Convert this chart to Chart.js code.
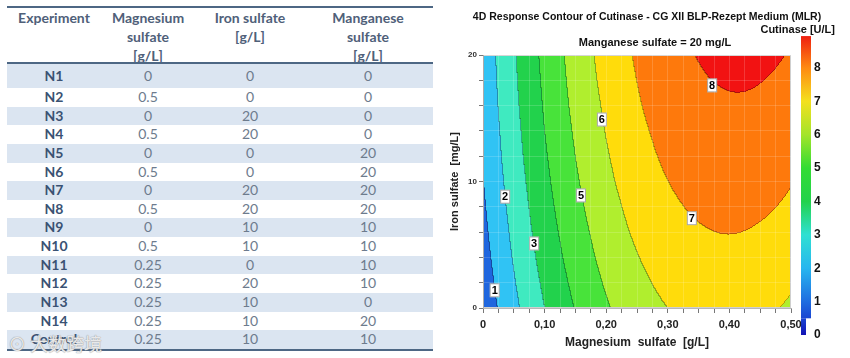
<!DOCTYPE html>
<html>
<head>
<meta charset="utf-8">
<script src="https://cdn.jsdelivr.net/npm/chart.js@4.4.1/dist/chart.umd.min.js"></script>
<style>
html, body { margin: 0; padding: 0; background: #fff; }
#page { position: relative; width: 850px; height: 358px; overflow: hidden; font-family: Lato, "Open Sans", sans-serif; }
#table { position: absolute; left: 7px; top: 0; width: 426px; height: 358px; }
.rule { position: absolute; left: 0; width: 426px; height: 2px; background: #4d6784; }
.row { position: absolute; left: 0; width: 426px; }
.cell { position: absolute; top: 0; transform: translateX(-50%); white-space: nowrap; text-align: center; }
.head { font-weight: bold; font-size: 14px; color: #4f6079; line-height: 19px; }
.name { font-weight: bold; font-size: 14px; color: #3a5273; }
.val { font-size: 14px; color: #6d7b8d; }
#mark { position: absolute; left: 8px; top: 330px; font-family: "Noto Sans CJK SC"; font-size: 18px; color: rgba(255,255,255,0.8);
  text-shadow: 0 0 1px #999, 0 0 1px #999; }
#chartBox { position: absolute; left: 440px; top: 0; width: 410px; height: 358px; }
</style>
</head>
<body>
<div id="page">
  <div id="table"></div>
  <div id="mark">⊙ 大数跨境</div>
  <div id="chartBox"><canvas id="contour"></canvas></div>
</div>
<script>
// table on the left
const headers = [['Experiment'], ['Magnesium', 'sulfate', '[g/L]'], ['Iron sulfate', '[g/L]'], ['Manganese', 'sulfate', '[g/L]']];
const experiments = ['N1', 'N2', 'N3', 'N4', 'N5', 'N6', 'N7', 'N8', 'N9', 'N10', 'N11', 'N12', 'N13', 'N14', 'Control'];
const magnesium = [0, 0.5, 0, 0.5, 0, 0.5, 0, 0.5, 0, 0.5, 0.25, 0.25, 0.25, 0.25, 0.25];
const iron = [0, 0, 20, 20, 0, 0, 20, 20, 10, 10, 0, 20, 10, 10, 10];
const manganese = [0, 0, 0, 0, 20, 20, 20, 20, 10, 10, 10, 10, 0, 20, 10];

// contour surface, Cutinase [U/L] read on a grid (rows = iron sulfate, cols = magnesium sulfate)
const mgGrid = [0, 0.05, 0.10, 0.15, 0.20, 0.25, 0.30, 0.35, 0.40, 0.45, 0.50];
const feGrid = [0, 2, 4, 6, 8, 10, 12, 14, 16, 18, 20];
const cutinase = [
  [0.28, 1.73, 2.98, 4.03, 4.89, 5.54, 6.00, 6.26, 6.33, 6.19, 5.86], // Fe 0
  [0.44, 1.90, 3.16, 4.22, 5.09, 5.75, 6.22, 6.50, 6.57, 6.44, 6.12], // Fe 2
  [0.59, 2.06, 3.33, 4.40, 5.28, 5.95, 6.43, 6.71, 6.80, 6.69, 6.37], // Fe 4
  [0.72, 2.20, 3.48, 4.56, 5.45, 6.14, 6.63, 6.92, 7.02, 6.91, 6.61], // Fe 6
  [0.84, 2.33, 3.62, 4.72, 5.61, 6.31, 6.81, 7.12, 7.22, 7.13, 6.84], // Fe 8
  [0.95, 2.45, 3.75, 4.86, 5.77, 6.47, 6.99, 7.30, 7.41, 7.33, 7.05], // Fe 10
  [1.05, 2.56, 3.87, 4.99, 5.90, 6.62, 7.15, 7.47, 7.60, 7.52, 7.25], // Fe 12
  [1.13, 2.65, 3.98, 5.10, 6.03, 6.76, 7.29, 7.63, 7.76, 7.70, 7.44], // Fe 14
  [1.21, 2.74, 4.07, 5.21, 6.14, 6.89, 7.43, 7.77, 7.92, 7.87, 7.62], // Fe 16
  [1.27, 2.81, 4.15, 5.30, 6.25, 7.00, 7.55, 7.91, 8.06, 8.02, 7.79], // Fe 18
  [1.31, 2.87, 4.22, 5.38, 6.34, 7.10, 7.66, 8.03, 8.20, 8.17, 7.94]  // Fe 20
];

// contour labels
const labelLevels = [1, 2, 3, 5, 6, 7, 8];
const labelMg = [0.019, 0.036, 0.083, 0.159, 0.193, 0.339, 0.372];
const labelFe = [1.4, 8.8, 5.1, 8.9, 14.9, 7.1, 17.6];

const colorbarTicks = [0, 1, 2, 3, 4, 5, 6, 7, 8];

const levelColors = ['#1f66de', '#30c3f4', '#3feac0', '#22d24c', '#48e33a', '#b0ee2e', '#ffdc0b', '#fe790c', '#f21212'];
const barStops = [[0, '#1212b4'], [0.5, '#1a46d2'], [1, '#1f6de0'], [2, '#27b6ef'], [3, '#2fe0d2'], [4, '#22d24c'],
  [5, '#33dc33'], [6, '#a4e42a'], [7, '#f4e01e'], [8, '#fe8a12'], [9, '#ee1a10']];

// build table
const tbl = document.getElementById('table');
const colX = [47, 141, 243, 361];
function addRule(y) {
  const d = document.createElement('div');
  d.className = 'rule'; d.style.top = y + 'px';
  tbl.appendChild(d);
}
addRule(6);
headers.forEach((lines, c) => {
  const d = document.createElement('div');
  d.className = 'cell head';
  d.style.left = colX[c] + 'px';
  d.style.top = '8px';
  d.innerHTML = lines.join('<br>');
  tbl.appendChild(d);
});
addRule(62);
experiments.forEach((name, i) => {
  const top = i === 0 ? 64 : 88 + (i - 1) * 18.64;
  const h = i === 0 ? 24 : 18.64;
  const row = document.createElement('div');
  row.className = 'row';
  row.style.top = top + 'px';
  row.style.height = h + 'px';
  row.style.lineHeight = h + 'px';
  if (i % 2 === 0) row.style.background = '#dbe5f1';
  [name, magnesium[i], iron[i], manganese[i]].forEach((t, c) => {
    const d = document.createElement('div');
    d.className = 'cell ' + (c === 0 ? 'name' : 'val');
    d.style.left = colX[c] + 'px';
    d.textContent = String(t);
    row.appendChild(d);
  });
  tbl.appendChild(row);
});
addRule(349);

// contour chart
function hexRgb(h) {
  return [parseInt(h.substr(1, 2), 16), parseInt(h.substr(3, 2), 16), parseInt(h.substr(5, 2), 16)];
}
const levelRgb = levelColors.map(hexRgb);

// grid node, with quadratic extension one node past the edges
function node(j, i) {
  const ni = mgGrid.length, nj = feGrid.length;
  if (i < 0) return 3 * node(j, 0) - 3 * node(j, 1) + node(j, 2);
  if (i > ni - 1) return 3 * node(j, ni - 1) - 3 * node(j, ni - 2) + node(j, ni - 3);
  if (j < 0) return 3 * node(0, i) - 3 * node(1, i) + node(2, i);
  if (j > nj - 1) return 3 * node(nj - 1, i) - 3 * node(nj - 2, i) + node(nj - 3, i);
  return cutinase[j][i];
}
function cr(p0, p1, p2, p3, t) {
  return 0.5 * (2 * p1 + (p2 - p0) * t + (2 * p0 - 5 * p1 + 4 * p2 - p3) * t * t + (3 * p1 - p0 - 3 * p2 + p3) * t * t * t);
}
function cutinaseAt(mg, fe) {
  const fx = (mg - mgGrid[0]) / (mgGrid[1] - mgGrid[0]);
  const fy = (fe - feGrid[0]) / (feGrid[1] - feGrid[0]);
  const i = Math.min(Math.max(Math.floor(fx), 0), mgGrid.length - 2);
  const j = Math.min(Math.max(Math.floor(fy), 0), feGrid.length - 2);
  const tx = fx - i, ty = fy - j;
  const col = [];
  for (let r = -1; r <= 2; r++) {
    col.push(cr(node(j + r, i - 1), node(j + r, i), node(j + r, i + 1), node(j + r, i + 2), tx));
  }
  return cr(col[0], col[1], col[2], col[3], ty);
}

const fieldPlugin = {
  id: 'field',
  beforeDraw(chart) {
    // colour bar, drawn first so the last x label can sit over its tail
    const ctx = chart.ctx;
    const cbY = v => 335 - v * 33.4;
    ctx.save();
    const grad = ctx.createLinearGradient(0, cbY(0), 0, cbY(9));
    barStops.forEach(s => grad.addColorStop(s[0] / 9, s[1]));
    ctx.fillStyle = grad;
    ctx.fillRect(361, cbY(8.95), 10, cbY(0.5) - cbY(8.95));
    ctx.fillRect(361, cbY(0.5), 5, cbY(0) - cbY(0.5));
    ctx.fillStyle = '#111';
    ctx.textBaseline = 'middle';
    ctx.font = 'bold 12px "Liberation Sans"';
    ctx.textAlign = 'left';
    colorbarTicks.forEach(v => ctx.fillText(String(v), 374, cbY(v)));
    ctx.restore();
  },
  beforeDatasetsDraw(chart) {
    const {ctx, chartArea: a, scales: {x, y}} = chart;
    const w = Math.round(a.right - a.left), h = Math.round(a.bottom - a.top);
    const off = document.createElement('canvas');
    off.width = w; off.height = h;
    const octx = off.getContext('2d');
    const img = octx.createImageData(w, h);
    const band = new Int8Array(w * h);
    for (let py = 0; py < h; py++) {
      const fe = y.getValueForPixel(a.top + py + 0.5);
      for (let px = 0; px < w; px++) {
        const mg = x.getValueForPixel(a.left + px + 0.5);
        const v = cutinaseAt(mg, fe);
        band[py * w + px] = Math.max(0, Math.min(levelColors.length - 1, Math.floor(v)));
      }
    }
    for (let py = 0; py < h; py++) {
      for (let px = 0; px < w; px++) {
        const k = py * w + px;
        const b = band[k];
        const edge = (px < w - 1 && band[k + 1] !== b) || (py < h - 1 && band[k + w] !== b);
        const c = levelRgb[b];
        const f = edge ? 0.72 : 1;
        img.data[k * 4] = c[0] * f;
        img.data[k * 4 + 1] = c[1] * f;
        img.data[k * 4 + 2] = c[2] * f;
        img.data[k * 4 + 3] = 255;
      }
    }
    octx.putImageData(img, 0, 0);
    ctx.drawImage(off, a.left, a.top);
  },
  afterDatasetsDraw(chart) {
    const {ctx, chartArea: a} = chart;
    const meta = chart.getDatasetMeta(0);
    ctx.save();
    ctx.strokeStyle = '#cfcfcf';
    ctx.lineWidth = 1;
    ctx.strokeRect(a.left + 0.5, a.top + 0.5, a.right - a.left - 1, a.bottom - a.top - 1);
    ctx.font = 'bold 11px "Liberation Sans"';
    ctx.textAlign = 'center';
    ctx.textBaseline = 'middle';
    meta.data.forEach((pt, i) => {
      ctx.fillStyle = '#ffffff';
      ctx.fillRect(pt.x - 5, pt.y - 7, 10, 14);
      ctx.strokeStyle = 'rgba(0,0,0,0.35)';
      ctx.strokeRect(pt.x - 5 + 0.5, pt.y - 7 + 0.5, 9, 13);
      ctx.fillStyle = '#000';
      ctx.fillText(String(labelLevels[i]), pt.x, pt.y + 0.5);
    });
    ctx.restore();
  },
  afterDraw(chart) {
    const ctx = chart.ctx;
    ctx.save();
    ctx.fillStyle = '#111';
    ctx.textBaseline = 'middle';
    ctx.font = 'bold 10.5px "Liberation Sans"';
    ctx.textAlign = 'center';
    ctx.fillText('4D Response Contour of Cutinase - CG XII BLP-Rezept Medium (MLR)', 207, 17);
    ctx.font = 'bold 11px "Liberation Sans"';
    ctx.fillText('Manganese sulfate = 20 mg/L', 215, 43);
    ctx.textAlign = 'right';
    ctx.fillText('Cutinase [U/L]', 395, 30);
    ctx.restore();
  }
};

const axisFont = {family: 'Liberation Sans', size: 12, weight: 'bold'};

new Chart(document.getElementById('contour'), {
  type: 'scatter',
  data: {
    datasets: [{
      label: 'levels',
      data: labelMg.map((m, i) => ({x: m, y: labelFe[i]})),
      pointRadius: 0
    }]
  },
  options: {
    responsive: true,
    maintainAspectRatio: false,
    animation: false,
    layout: {padding: {top: 55, right: 59, left: 0, bottom: 0}},
    plugins: {legend: {display: false}, tooltip: {enabled: false}},
    scales: {
      x: {
        type: 'linear', min: 0, max: 0.5,
        afterFit(s) { s.height = 50; },
        ticks: {
          stepSize: 0.025, autoSkip: false, maxRotation: 0, padding: 5,
          font: {family: 'Liberation Sans', size: 11, weight: 'bold'}, color: '#222',
          callback(v) {
            const r = Math.round(v * 1000);
            if (r % 100 !== 0) return '';
            return r === 0 ? '0' : (r / 1000).toFixed(2).replace('.', ',');
          }
        },
        grid: {color: 'rgba(255,255,255,0.16)', tickColor: '#777', tickLength: 5, z: 1},
        border: {color: '#aaa', z: 1},
        title: {display: true, text: 'Magnesium  sulfate  [g/L]', font: axisFont, color: '#222', padding: {top: 0, bottom: 8}}
      },
      y: {
        type: 'linear', min: 0, max: 20,
        afterFit(s) { s.width = 43; },
        ticks: {
          stepSize: 2, autoSkip: false, padding: 2,
          font: {family: 'Liberation Sans', size: 8, weight: 'bold'}, color: '#333',
          callback(v) { return v % 10 === 0 ? String(v) : ''; }
        },
        grid: {color: 'rgba(255,255,255,0.16)', tickColor: '#777', tickLength: 4, z: 1},
        border: {color: '#aaa', z: 1},
        title: {display: true, text: 'Iron sulfate  [mg/L]', font: {family: 'Liberation Sans', size: 11, weight: 'bold'}, color: '#222', padding: {top: 8, bottom: 0}}
      }
    }
  },
  plugins: [fieldPlugin]
});
</script>
</body>
</html>
